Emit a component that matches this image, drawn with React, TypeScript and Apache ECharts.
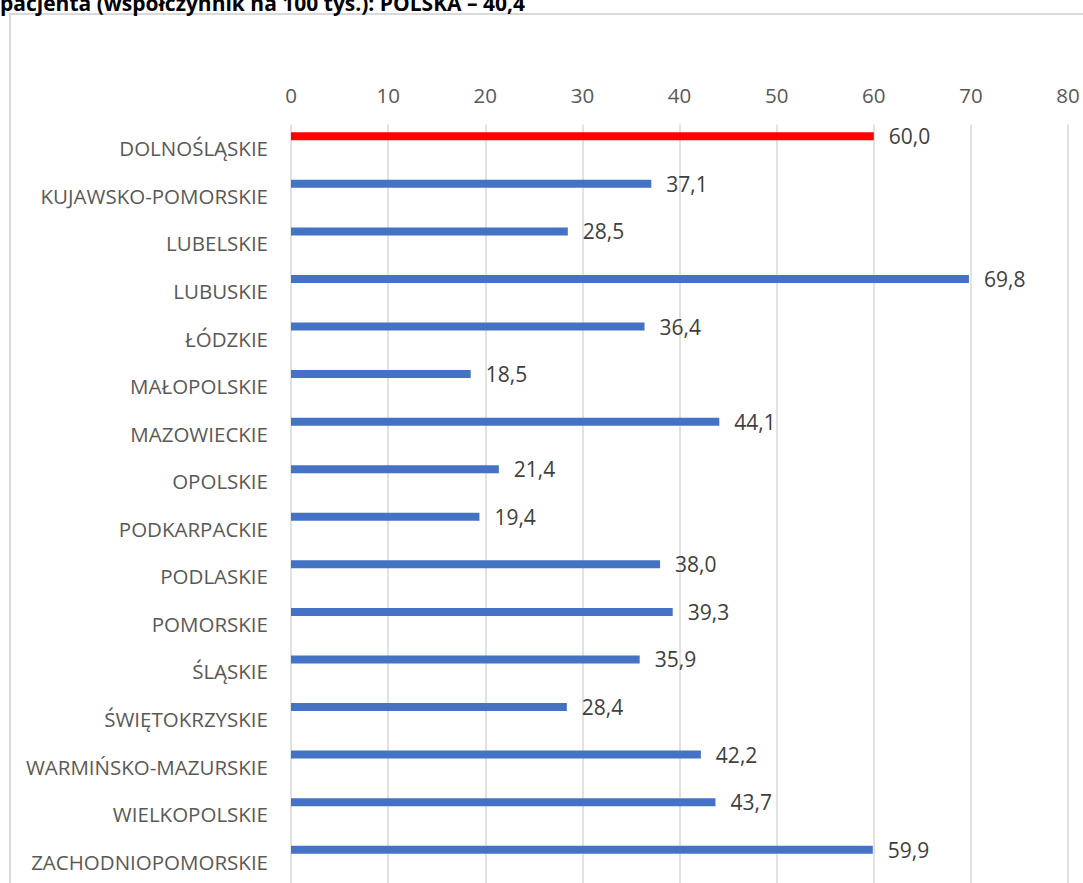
import React, { useEffect, useRef } from "react";
import * as echarts from "echarts";

const titleText = "pacjenta (współczynnik na 100 tys.): POLSKA – 40,4";
const categories = [
  "DOLNOŚLĄSKIE",
  "KUJAWSKO-POMORSKIE",
  "LUBELSKIE",
  "LUBUSKIE",
  "ŁÓDZKIE",
  "MAŁOPOLSKIE",
  "MAZOWIECKIE",
  "OPOLSKIE",
  "PODKARPACKIE",
  "PODLASKIE",
  "POMORSKIE",
  "ŚLĄSKIE",
  "ŚWIĘTOKRZYSKIE",
  "WARMIŃSKO-MAZURSKIE",
  "WIELKOPOLSKIE",
  "ZACHODNIOPOMORSKIE",
];
const values = [60.0, 37.1, 28.5, 69.8, 36.4, 18.5, 44.1, 21.4, 19.4, 38.0, 39.3, 35.9, 28.4, 42.2, 43.7, 59.9];
const highlighted = ["DOLNOŚLĄSKIE"];
const xTicks = { min: 0, max: 80, interval: 10 };

const FONT = "Open Sans";

export default function App() {
  const ref = useRef<HTMLDivElement>(null);
  useEffect(() => {
    if (!ref.current) return;
    const chart = echarts.init(ref.current, undefined, { renderer: "svg" });
    const fmt = (v: number) => v.toFixed(1).replace(".", ",");
    chart.setOption({
      animation: false,
      textStyle: { fontFamily: FONT },
      graphic: [
        {
          type: "rect",
          shape: { x: 10, y: 14, width: 1200, height: 1000 },
          style: { fill: "none", stroke: "#d9d9d9", lineWidth: 2 },
          silent: true,
        },
        {
          type: "text",
          x: 0,
          y: -8,
          style: {
            text: titleText,
            fontFamily: FONT,
            fontWeight: "bold",
            fontSize: 21,
            fill: "#000000",
            textVerticalAlign: "top",
          },
        },
      ],
      grid: { left: 291, right: 15, top: 124.5, bottom: 900 - 885.5, containLabel: false },
      xAxis: {
        type: "value",
        position: "top",
        min: xTicks.min,
        max: xTicks.max,
        interval: xTicks.interval,
        axisLine: { show: false },
        axisTick: { show: false },
        splitLine: { lineStyle: { color: "#d9d9d9", width: 1.5 } },
        axisLabel: { color: "#595959", fontSize: 20.5, margin: 19, fontFamily: FONT },
      },
      yAxis: {
        type: "category",
        inverse: true,
        data: categories,
        axisLine: { show: false },
        axisTick: { show: false },
        axisLabel: { color: "#595959", fontSize: 20.5, margin: 23, fontFamily: FONT },
      },
      series: [
        {
          type: "bar",
          barWidth: 8,
          barGap: "200%",
          data: values.map((v, i) => ({
            value: v,
            itemStyle: { color: highlighted.includes(categories[i]) ? "#ff0000" : "#4472c4" },
          })),
          label: {
            show: true,
            position: "right",
            distance: 15,
            color: "#404040",
            fontSize: 21,
            fontFamily: FONT,
            formatter: (p: any) => fmt(p.value),
          },
        },
        {
          type: "bar",
          barWidth: 8,
          data: values.map(() => null),
        },
      ],
    });
    return () => chart.dispose();
  }, []);
  return (
    <div style={{ position: "fixed", left: 0, top: 0, width: 1083, height: 883, overflow: "hidden", background: "#fff" }}>
      <div ref={ref} style={{ width: 1083, height: 900 }} />
    </div>
  );
}
